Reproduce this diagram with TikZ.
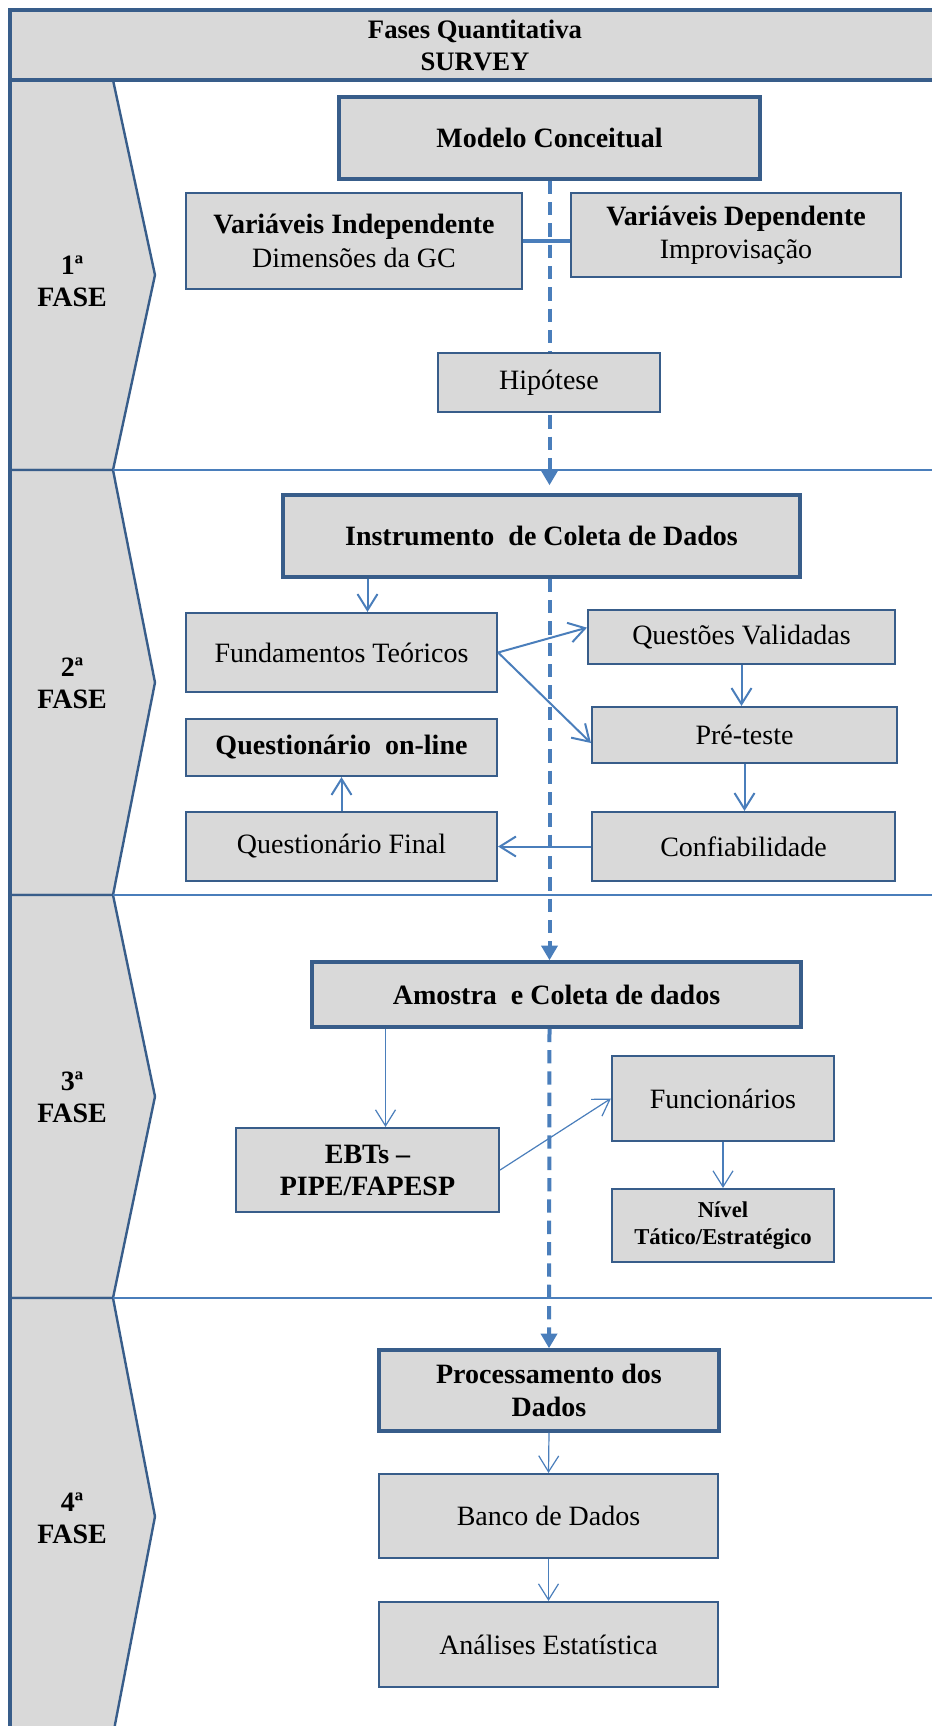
\documentclass[tikz,border=0pt]{standalone}
\usepackage{fontspec}
\setmainfont{Liberation Serif}
\usetikzlibrary{arrows.meta}
\definecolor{frameblue}{HTML}{385D8A}
\definecolor{linkblue}{HTML}{4A7EBB}
\definecolor{boxgray}{HTML}{D9D9D9}
\pgfdeclarelayer{back}
\pgfdeclarelayer{spine}
\pgfsetlayers{back,spine,main}
\tikzset{
  box/.style={draw=frameblue, fill=boxgray, line width=1.6pt, inner sep=0pt,
    align=center, font=\fontsize{21}{25}\selectfont},
  keybox/.style={box, line width=2.6pt, font=\fontsize{21}{25}\selectfont\bfseries},
  flow/.style={draw=linkblue, line width=1.5pt, -{Straight Barb[length=12pt,width=15pt]}},
  thinflow/.style={flow, line width=0.9pt},
  spinearrow/.style={draw=linkblue, line width=3pt, dash pattern=on 10pt off 6pt,
    -{Triangle[length=11pt,width=12pt]}},
  chevron/.style={draw=frameblue, fill=boxgray, line width=1.8pt, line join=miter},
  phaselabel/.style={align=center, font=\fontsize{21}{24}\selectfont\bfseries},
  divider/.style={draw=linkblue, line width=1.5pt},
}
\begin{document}
\begin{tikzpicture}[x=0.75pt,y=-0.75pt]
\useasboundingbox (0,0) rectangle (931,1726);

% phase column, dividers and title bar
\begin{pgfonlayer}{back}
  \foreach \t/\b in {80/470, 470/895, 895/1298, 1298/1735}{
    \draw[chevron] (10,\t) -- (113,\t) -- (155,{(\t+\b)/2}) -- (113,\b) -- (10,\b);
  }
  \foreach \t in {470, 895, 1298}{
    \draw[divider] (113,\t) -- (940,\t);
  }
  \draw[draw=frameblue, fill=boxgray, line width=3pt] (10,10) rectangle (945,80);
  \draw[frameblue, line width=3pt] (10,10) -- (10,1740);
\end{pgfonlayer}

\node[font=\fontsize{20}{24}\selectfont\bfseries, align=center] (title) at (475,45)
  {Fases Quantitativa\\SURVEY};

\node[phaselabel] (p1) at (72,281)  {1ª\\FASE};
\node[phaselabel] (p2) at (72,683)  {2ª\\FASE};
\node[phaselabel] (p3) at (72,1097) {3ª\\FASE};
\node[phaselabel] (p4) at (72,1518) {4ª\\FASE};

% phase 1
\node[keybox, minimum width=315.75pt, minimum height=61.5pt] (mc) at (549.5,138)
  {Modelo Conceitual};
\node[box, minimum width=252pt, minimum height=72pt] (vi) at (354,241)
  {\textbf{Variáveis Independente}\\Dimensões da GC};
\node[box, minimum width=247.5pt, minimum height=63pt] (vd) at (736,235)
  {\textbf{Variáveis Dependente}\\Improvisação};
\node[box, minimum width=166.5pt, minimum height=44.25pt] (hip) at (549,382.5)
  {Hipótese};

% phase 2
\node[keybox, minimum width=387.75pt, minimum height=61.5pt] (inst) at (541.5,536)
  {Instrumento\ \ de Coleta de Dados};
\node[box, minimum width=233.25pt, minimum height=59.25pt] (fund) at (341.5,652.5)
  {Fundamentos Teóricos};
\node[box, minimum width=230.25pt, minimum height=40.5pt] (qv) at (741.5,637)
  {Questões Validadas};
\node[box, minimum width=228.75pt, minimum height=42pt] (pre) at (744.5,735)
  {Pré-teste};
\node[box, minimum width=227.25pt, minimum height=51.75pt] (conf) at (743.5,846.5)
  {Confiabilidade};
\node[box, minimum width=233.25pt, minimum height=42.75pt, font=\fontsize{21}{25}\selectfont\bfseries]
  (qol) at (341.5,747.5) {Questionário\ \ on-line};
\node[box, minimum width=233.25pt, minimum height=51.75pt] (qf) at (341.5,846.5)
  {Questionário Final};

% phase 3
\node[keybox, minimum width=366.75pt, minimum height=48.75pt] (am) at (556.5,994.5)
  {Amostra\ \ e Coleta de dados};
\node[box, minimum width=197.25pt, minimum height=63pt, font=\fontsize{21}{24}\selectfont\bfseries]
  (ebt) at (367.5,1170) {EBTs –\\PIPE/FAPESP};
\node[box, minimum width=166.5pt, minimum height=63.75pt] (func) at (723,1098.5)
  {Funcionários};
\node[box, minimum width=166.5pt, minimum height=54.75pt, font=\fontsize{17}{20}\selectfont\bfseries]
  (niv) at (723,1225.5) {Nível\\Tático/Estratégico};

% phase 4
\node[keybox, minimum width=255pt, minimum height=60.75pt] (proc) at (549,1390.5)
  {Processamento dos\\Dados};
\node[box, minimum width=254.25pt, minimum height=63pt] (banco) at (548.5,1516)
  {Banco de Dados};
\node[box, minimum width=254.25pt, minimum height=63.75pt] (anal) at (548.5,1644.5)
  {Análises Estatística};

% dashed spine through the phases
\begin{pgfonlayer}{spine}
  \draw[spinearrow, shorten >=6pt] (mc.south) -- (mc.south |- inst.north);
  \draw[spinearrow] (mc.south |- inst.south) -- (mc.south |- am.north);
  \draw[spinearrow] (mc.south |- am.south) -- (proc.north);
\end{pgfonlayer}

% phase 1 link
\draw[draw=linkblue, line width=3.5pt] (vi.east) -- (vi.east -| vd.west);

% phase 2 flow
\coordinate (fa) at ([xshift=19.5pt]fund.north);
\draw[flow] (fa |- inst.south) -- (fa);
\draw[flow] (fund.east) -- ([yshift=7pt]qv.west);
\draw[flow] (fund.east) -- ([yshift=-6pt]pre.west);
\draw[flow] (qv.south) -- (qv.south |- pre.north);
\draw[flow] (pre.south) -- (pre.south |- conf.north);
\draw[flow] (conf.west) -- (qf.east);
\draw[flow] (qf.north) -- (qol.south);

% phase 3 flow
\coordinate (eb) at ([xshift=13.5pt]ebt.north);
\draw[thinflow] (eb |- am.south) -- (eb);
\draw[thinflow] (ebt.east) -- (func.west);
\draw[thinflow] (func.south) -- (niv.north);

% phase 4 flow
\draw[thinflow] (proc.south) -- (banco.north);
\draw[thinflow] (banco.south) -- (anal.north);
\end{tikzpicture}
\end{document}
